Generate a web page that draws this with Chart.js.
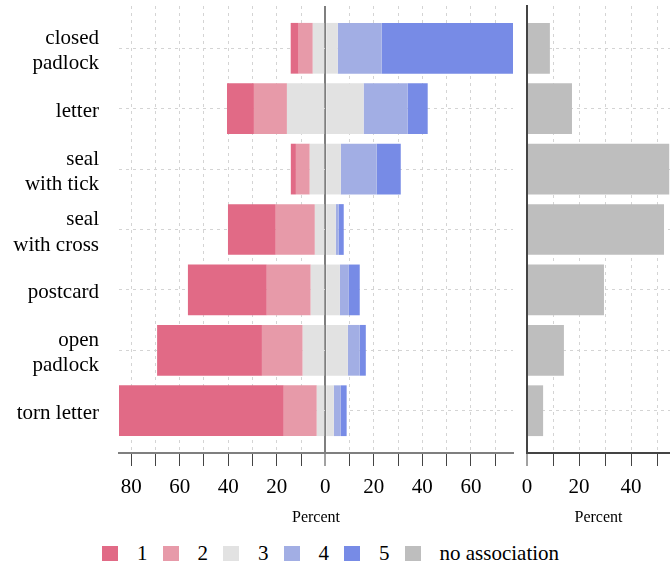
<!DOCTYPE html>
<html>
<head>
<meta charset="utf-8">
<script src="https://cdn.jsdelivr.net/npm/chart.js@4.4.1/dist/chart.umd.min.js"></script>
<style>
    html, body { margin: 0; padding: 0; background: #fff; }
    #wrap { position: relative; width: 670px; height: 566px; overflow: hidden; font-family: "Liberation Serif", "Times New Roman", serif; }
    #likert { position: absolute; left: 0; top: 0; }
    #noassoc { position: absolute; left: 520px; top: 0; }
    #legend { position: absolute; left: 102px; top: 541px; height: 24px; display: flex; align-items: center; font-size: 21px; color: #000; white-space: nowrap; }
    #legend .box { display: inline-block; width: 16px; height: 15px; margin-right: 19px; }
    #legend .txt { margin-right: 15px; }
</style>
</head>
<body>
<div id="wrap">
    <canvas id="likert" width="520" height="530"></canvas>
    <canvas id="noassoc" width="150" height="530"></canvas>
    <div id="legend"></div>
</div>
<script>
// categories, top to bottom
var categories = ['closed\npadlock', 'letter', 'seal\nwith tick', 'seal\nwith cross', 'postcard', 'open\npadlock', 'torn letter'];

// percent of answers per rating
var level1 = [3.3, 11.1, 2.1, 19.7, 32.5, 43.2, 67.9];
var level2 = [5.8, 13.6, 5.7, 16.1, 18.1, 16.8, 13.6];
var level3 = [10.3, 31.6, 12.8, 8.6, 12.0, 18.6, 7.0];
var level4 = [18.1, 18.1, 14.8, 1.2, 3.7, 4.9, 2.9];
var level5 = [54.1, 8.3, 9.9, 2.1, 4.5, 2.5, 2.4];
var noAssociation = [8.8, 17.3, 54.7, 52.7, 29.6, 14.2, 6.2];

var legendLabels = ['1', '2', '3', '4', '5', 'no association'];
var tickLabelStep = 20;

var colors = ['#e16a86', '#e79aa9', '#e2e2e2', '#a2aee4', '#778be6', '#bebebe'];

Chart.defaults.color = '#000';
Chart.defaults.font.family = '"Liberation Serif", "Times New Roman", serif';

var labelFont = { size: 21, lineHeight: 1.2 };
var titleFont = { size: 16, lineHeight: 1.2 };
var gridGray = '#d4d4d4';

function toPoints(values, sign) {
    return values.map(function(v, i) { return { x: sign * v, y: i }; });
}

function barSet(label, values, sign, color) {
    return {
        label: label,
        data: toPoints(values, sign),
        backgroundColor: color,
        borderWidth: 0,
        barPercentage: 0.84,
        categoryPercentage: 1
    };
}

function categoryAxis(showLabels, width, borderColor) {
    return {
        type: 'linear',
        reverse: true,
        stacked: true,
        offset: false,
        min: -0.7,
        max: categories.length - 0.3,
        afterBuildTicks: function(scale) {
            scale.ticks = scale.ticks.filter(function(t) { return Number.isInteger(t.value); });
        },
        afterFit: function(scale) {
            scale.width = width;
            scale.paddingTop = 0;
            scale.paddingBottom = 0;
        },
        ticks: {
            display: showLabels,
            stepSize: 1,
            includeBounds: false,
            padding: 20,
            labelOffset: 3,
            font: labelFont,
            callback: function(value) { return categories[value] ? categories[value].split('\n') : ''; }
        },
        grid: { color: gridGray, drawTicks: false, offset: false },
        border: { display: !!borderColor, color: borderColor || gridGray, width: 2, dash: [3, 4] }
    };
}

function percentAxis(min, max, axisColor, zeroColor) {
    return {
        type: 'linear',
        stacked: true,
        min: min,
        max: max,
        afterBuildTicks: function(scale) {
            scale.ticks = scale.ticks.filter(function(t) { return Math.round(t.value) % 10 === 0; });
        },
        afterFit: function(scale) {
            scale.height = 77;
            scale.paddingLeft = 0;
            scale.paddingRight = 0;
        },
        ticks: {
            stepSize: 10,
            includeBounds: false,
            padding: 9,
            maxRotation: 0,
            autoSkip: false,
            font: labelFont,
            callback: function(value) { return value % tickLabelStep === 0 ? Math.abs(value) : ''; }
        },
        grid: {
            color: function(ctx) { return ctx.tick && ctx.tick.value === 0 ? zeroColor : gridGray; },
            lineWidth: function(ctx) { return ctx.tick && ctx.tick.value === 0 ? 2 : 1; },
            tickColor: '#444',
            tickWidth: 1,
            tickLength: 13,
            tickBorderDash: []
        },
        border: {
            color: axisColor,
            width: 2,
            dash: function(ctx) { return ctx.tick && ctx.tick.value === 0 ? [] : [3, 4]; }
        },
        title: { display: true, text: 'Percent', font: titleFont, padding: { top: 4, bottom: 3 } }
    };
}

// axis range follows the data extent on each side
var leftMax = 0, rightMax = 0;
for (var i = 0; i < categories.length; i++) {
    leftMax = Math.max(leftMax, level1[i] + level2[i] + level3[i] / 2);
    rightMax = Math.max(rightMax, level3[i] / 2 + level4[i] + level5[i]);
}

new Chart(document.getElementById('likert'), {
    type: 'bar',
    data: {
        datasets: [
            barSet('3', level3, -0.5, colors[2]),
            barSet('2', level2, -1, colors[1]),
            barSet('1', level1, -1, colors[0]),
            barSet('3', level3, 0.5, colors[2]),
            barSet('4', level4, 1, colors[3]),
            barSet('5', level5, 1, colors[4])
        ]
    },
    options: {
        indexAxis: 'y',
        responsive: false,
        animation: false,
        layout: { padding: { top: 6, right: 7, left: 0, bottom: 0 } },
        plugins: { legend: { display: false }, tooltip: { enabled: false } },
        scales: {
            x: percentAxis(-leftMax, rightMax, '#7f7f7f', '#7f7f7f'),
            y: categoryAxis(true, 119, null)
        }
    }
});

new Chart(document.getElementById('noassoc'), {
    type: 'bar',
    data: {
        datasets: [barSet('no association', noAssociation, 1, colors[5])]
    },
    options: {
        indexAxis: 'y',
        responsive: false,
        animation: false,
        layout: { padding: { top: 6, right: 0, left: 0, bottom: 0 } },
        plugins: { legend: { display: false }, tooltip: { enabled: false } },
        scales: {
            x: percentAxis(0, 55, '#444', 'rgba(0,0,0,0)'),
            y: categoryAxis(false, 7, '#444')
        }
    }
});

// legend below both panels
var legend = document.getElementById('legend');
legendLabels.forEach(function(label, k) {
    var box = document.createElement('span');
    box.className = 'box';
    box.style.background = colors[k];
    var txt = document.createElement('span');
    txt.className = 'txt';
    txt.textContent = label;
    legend.appendChild(box);
    legend.appendChild(txt);
});
</script>
</body>
</html>
